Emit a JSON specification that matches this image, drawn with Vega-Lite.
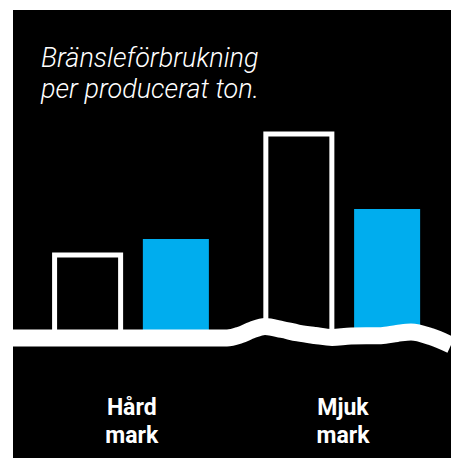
{
  "$schema": "https://vega.github.io/schema/vega-lite/v6.json",
  "width": 438,
  "height": 448,
  "autosize": {"type": "none"},
  "padding": {"left": 13, "top": 10, "right": 0, "bottom": 0},
  "background": "white",
  "view": {"fill": "black", "stroke": null},
  "config": {"font": "Roboto"},
  "title": {
    "text": ["Bränsleförbrukning", "per producerat ton."],
    "anchor": "start",
    "frame": "group",
    "orient": "top",
    "offset": -94,
    "dx": 28,
    "baseline": "top",
    "font": "Roboto",
    "fontSize": 27,
    "fontStyle": "italic",
    "fontWeight": 300,
    "color": "white",
    "lineHeight": 31
  },
  "datasets": {
    "bars": [
      {"group": "Hård mark", "kind": "Referens", "value": 83},
      {"group": "Hård mark", "kind": "Jämförelse", "value": 99},
      {"group": "Mjuk mark", "kind": "Referens", "value": 204},
      {"group": "Mjuk mark", "kind": "Jämförelse", "value": 129}
    ],
    "groups": [
      {"group": "Hård mark"},
      {"group": "Mjuk mark"}
    ],
    "ground": [
      {"pos": 0, "level": 0},
      {"pos": 214, "level": 0},
      {"pos": 227, "level": 3},
      {"pos": 239, "level": 8},
      {"pos": 252, "level": 11.5},
      {"pos": 269, "level": 8.5},
      {"pos": 285, "level": 5},
      {"pos": 302, "level": 2.5},
      {"pos": 319, "level": 0.5},
      {"pos": 338, "level": 2},
      {"pos": 368, "level": 2.3},
      {"pos": 384, "level": 4.5},
      {"pos": 398, "level": 6},
      {"pos": 418, "level": 1.3},
      {"pos": 438, "level": -7}
    ]
  },
  "layer": [
    {
      "data": {"name": "bars"},
      "mark": {"type": "bar", "strokeWidth": 5, "strokeJoin": "miter"},
      "encoding": {
        "x": {
          "field": "group", "type": "nominal", "axis": null,
          "scale": {"type": "band", "domain": ["Hård mark", "Mjuk mark"], "paddingInner": 0.2696, "paddingOuter": 0.1715, "align": 0.574, "round": false}
        },
        "xOffset": {
          "field": "kind", "type": "nominal",
          "scale": {"domain": ["Referens", "Jämförelse"], "paddingInner": 0.252, "paddingOuter": 0, "round": false}
        },
        "y": {"field": "value", "type": "quantitative", "axis": null, "scale": {"domain": [-120, 328], "nice": false, "zero": false}},
        "fill": {"field": "kind", "type": "nominal", "legend": null, "scale": {"domain": ["Referens", "Jämförelse"], "range": ["#000000", "#00ADEE"]}},
        "stroke": {"field": "kind", "type": "nominal", "legend": null, "scale": {"domain": ["Referens", "Jämförelse"], "range": ["#FFFFFF", "transparent"]}}
      }
    },
    {
      "data": {"name": "ground"},
      "mark": {"type": "area", "interpolate": "monotone", "fill": "black"},
      "encoding": {
        "x": {"field": "pos", "type": "quantitative", "axis": null, "scale": {"domain": [0, 438], "nice": false, "zero": false}},
        "y": {"field": "level", "type": "quantitative", "axis": null, "scale": {"domain": [-120, 328], "nice": false, "zero": false}},
        "y2": {"datum": -120}
      }
    },
    {
      "data": {"name": "ground"},
      "mark": {"type": "line", "interpolate": "monotone", "stroke": "white", "strokeWidth": 17, "strokeCap": "butt"},
      "encoding": {
        "x": {"field": "pos", "type": "quantitative", "axis": null, "scale": {"domain": [0, 438], "nice": false, "zero": false}},
        "y": {"field": "level", "type": "quantitative", "axis": null, "scale": {"domain": [-120, 328], "nice": false, "zero": false}}
      }
    },
    {
      "data": {"name": "groups"},
      "mark": {"type": "text", "lineBreak": " ", "align": "center", "baseline": "alphabetic", "font": "Roboto", "fontSize": 23, "fontWeight": 700, "color": "white", "lineHeight": 28},
      "encoding": {
        "x": {
          "field": "group", "type": "nominal", "axis": null,
          "scale": {"type": "band", "domain": ["Hård mark", "Mjuk mark"], "paddingInner": 0.2696, "paddingOuter": 0.1715, "align": 0.574, "round": false}
        },
        "y": {"datum": -77, "type": "quantitative", "axis": null, "scale": {"domain": [-120, 328], "nice": false, "zero": false}},
        "text": {"field": "group", "type": "nominal"}
      }
    }
  ],
  "resolve": {"scale": {"x": "independent"}}
}
